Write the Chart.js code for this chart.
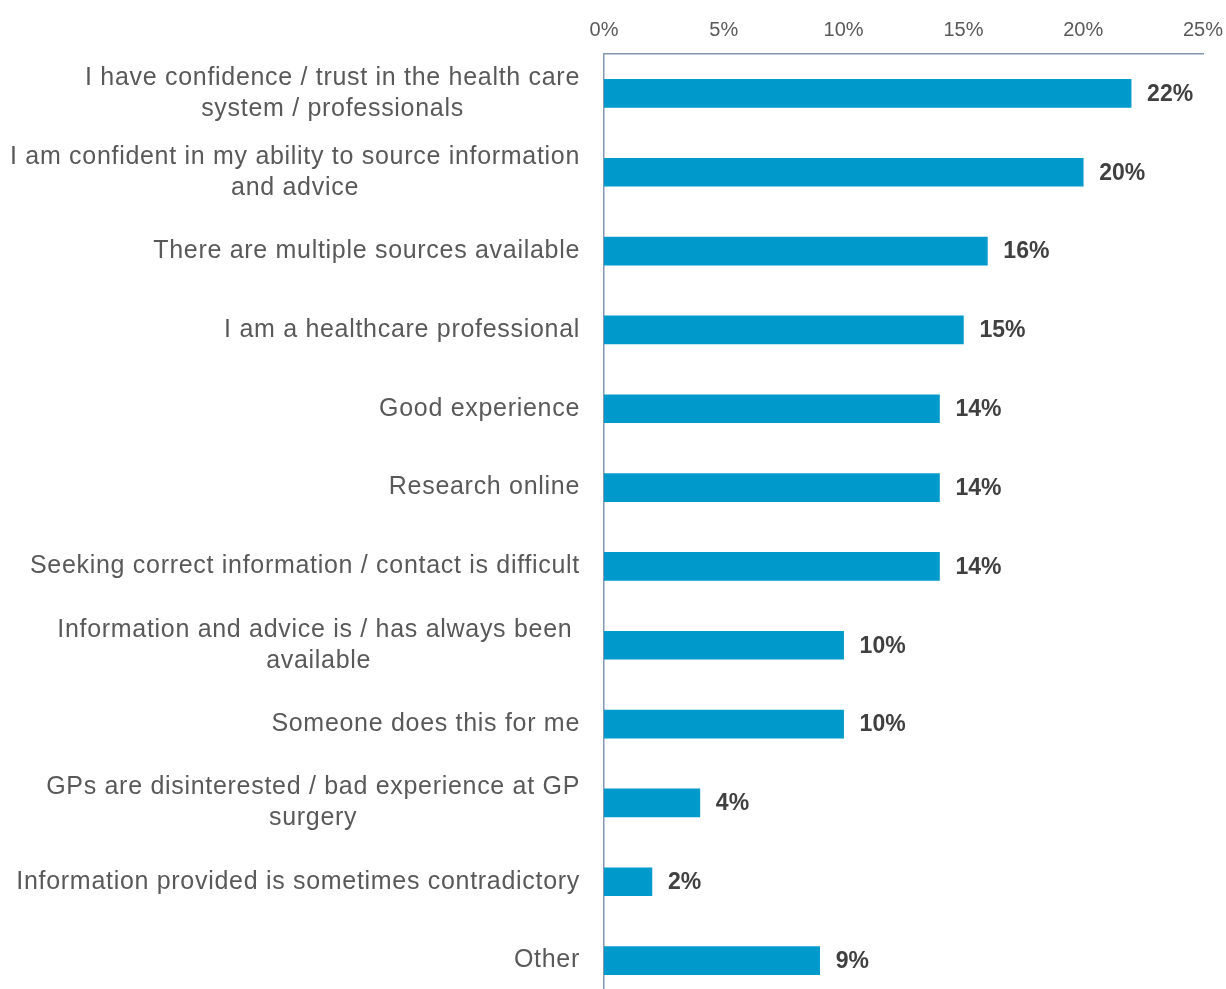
<!DOCTYPE html>
<html lang="en">
<head>
    <meta charset="UTF-8">
    <title>Reasons for confidence in finding health information</title>
    <script src="https://cdn.jsdelivr.net/npm/chart.js"></script>
    <style>
        html, body { margin: 0; padding: 0; overflow: hidden; background: #fff; }
        #wrap { position: relative; width: 1226px; height: 1000px; }
    </style>
</head>
<body>

<div id="wrap"><canvas id="reasonsChart"></canvas></div>

<script>
    // Answers, each as the lines it is printed on
    const categories = [
        ['I have confidence / trust in the health care', 'system / professionals'],
        ['I am confident in my ability to source information', 'and advice'],
        ['There are multiple sources available'],
        ['I am a healthcare professional'],
        ['Good experience'],
        ['Research online'],
        ['Seeking correct information / contact is difficult'],
        ['Information and advice is / has always been ', 'available'],
        ['Someone does this for me'],
        ['GPs are disinterested / bad experience at GP', 'surgery'],
        ['Information provided is sometimes contradictory'],
        ['Other']
    ];
    const shares = [22, 20, 16, 15, 14, 14, 14, 10, 10, 4, 2, 9];
    const xTicks = [0, 5, 10, 15, 20, 25];

    const labelFont = '25px "Liberation Sans", Arial, sans-serif';
    const valueFont = 'bold 23px "Liberation Sans", Arial, sans-serif';

    // Category names: right-aligned block, lines centred within it
    const categoryLabels = {
        id: 'categoryLabels',
        afterDraw(chart) {
            const ctx = chart.ctx;
            const y = chart.scales.y;
            const right = y.right - 24;
            const lineH = 31;
            ctx.save();
            ctx.font = labelFont;
            ctx.letterSpacing = '0.7px';
            ctx.fillStyle = '#595959';
            ctx.textAlign = 'center';
            ctx.textBaseline = 'middle';
            categories.forEach((lines, i) => {
                const widest = Math.max(...lines.map(l => ctx.measureText(l).width));
                const cx = right - widest / 2;
                const cy = y.getPixelForTick(i) - (lines.length - 1) * lineH / 2;
                lines.forEach((l, j) => ctx.fillText(l, cx, cy + j * lineH));
            });
            ctx.restore();
        }
    };

    // Percentage written after the end of each bar
    const valueLabels = {
        id: 'valueLabels',
        afterDatasetsDraw(chart) {
            const ctx = chart.ctx;
            const meta = chart.getDatasetMeta(0);
            ctx.save();
            ctx.font = valueFont;
            ctx.fillStyle = '#404040';
            ctx.textAlign = 'left';
            ctx.textBaseline = 'middle';
            meta.data.forEach((bar, i) => {
                ctx.fillText(shares[i] + '%', bar.x + 16, bar.y + 1);
            });
            ctx.restore();
        }
    };

    new Chart(document.getElementById('reasonsChart'), {
        type: 'bar',
        data: {
            labels: categories.map(l => l.join(' ')),
            datasets: [{
                data: shares,
                backgroundColor: '#0099cc',
                borderWidth: 0,
                barThickness: 28
            }]
        },
        options: {
            indexAxis: 'y',
            responsive: true,
            maintainAspectRatio: false,
            animation: false,
            layout: { padding: 0 },
            plugins: {
                legend: { display: false },
                tooltip: { enabled: false }
            },
            scales: {
                x: {
                    position: 'top',
                    min: 0,
                    max: 25,
                    afterBuildTicks(scale) {
                        scale.ticks = xTicks.map(v => ({ value: v }));
                    },
                    afterFit(scale) {
                        scale.height = 54;
                        scale.paddingRight = 23;
                    },
                    grid: { display: false, drawTicks: false },
                    border: { display: true, color: '#8497b0', width: 1.5 },
                    ticks: {
                        padding: 12,
                        color: '#595959',
                        font: { family: '"Liberation Sans", Arial, sans-serif', size: 20 },
                        callback: v => v + '%'
                    }
                },
                y: {
                    afterFit(scale) { scale.width = 604; },
                    grid: { display: false, drawTicks: false },
                    border: { display: true, color: '#8497b0', width: 1.5 },
                    ticks: { display: false }
                }
            }
        },
        plugins: [categoryLabels, valueLabels]
    });
</script>

</body>
</html>
